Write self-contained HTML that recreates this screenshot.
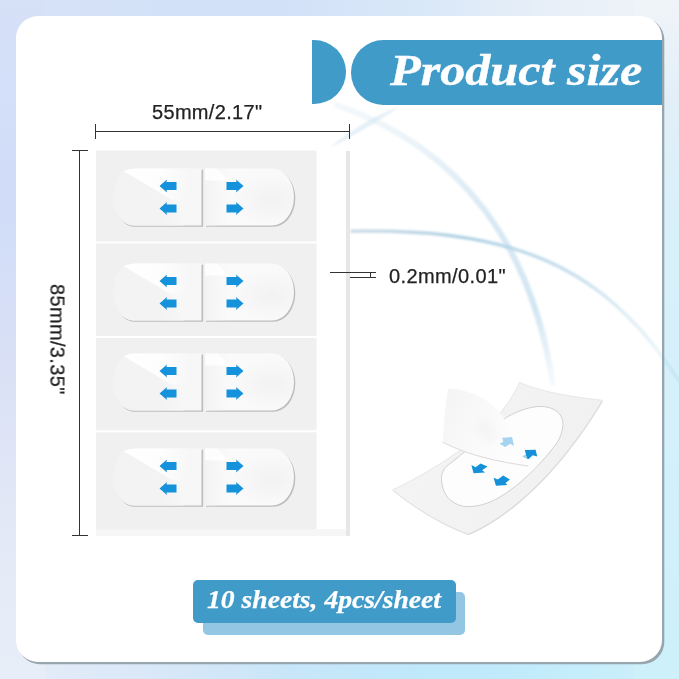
<!DOCTYPE html>
<html><head><meta charset="utf-8">
<style>
*{margin:0;padding:0;box-sizing:border-box}
html,body{width:679px;height:679px;overflow:hidden}
body{position:relative;font-family:"Liberation Sans",sans-serif;
background:linear-gradient(135deg,#d2dff8 0%,#dbe5f8 30%,#e3ebf8 48%,#d4eff9 68%,#c9eefb 100%);}
.abs{position:absolute}
#bg2{left:0;top:0;width:679px;height:679px;
background:radial-gradient(ellipse 55% 40% at 100% 0%,rgba(240,243,249,1) 0%,rgba(240,243,249,0.85) 40%,rgba(240,243,249,0) 100%),
radial-gradient(ellipse 45% 50% at 0% 100%,rgba(232,238,249,1) 0%,rgba(232,238,249,0.7) 50%,rgba(232,238,249,0) 100%);}
#card{left:16px;top:16px;width:646px;height:646px;background:#fff;border-radius:22px;
box-shadow:2px 2px 0.6px 0.3px #97a5ad;overflow:hidden}
.dim{position:absolute;font-size:20px;color:#222;white-space:nowrap;line-height:1;will-change:transform;-webkit-text-stroke:0.25px #222}
.ln{position:absolute;background:#333}
.gray{position:absolute;background:#efefef}
</style></head><body>
<div id="bg2" class="abs"></div>
<div class="abs" style="left:0;top:0;width:679px;height:45px;background:linear-gradient(to right,#d6e2f8 0%,#d2e1f8 40%,#d9e8f8 62%,#e7eff8 80%,#f0f4f8 100%)"></div>
<div class="abs" style="left:0;top:634px;width:679px;height:45px;background:linear-gradient(to right,#e6edf8 0%,#dbe8f8 20%,#c9e6f9 42%,#c0e8fb 60%,#c0ebfb 75%,#c8eefb 90%,#d0f1fb 100%)"></div>
<div class="abs" style="left:0;top:0;width:45px;height:679px;background:linear-gradient(to bottom,#d6e1f8 0%,#d0dcf8 30%,#dae1f6 55%,#e3e8f6 75%,#e7eef8 100%)"></div>
<div class="abs" style="left:634px;top:0;width:45px;height:679px;background:linear-gradient(to bottom,#f0f4f8 0%,#e2eff8 15%,#d9f0fa 30%,#d4f0fb 60%,#cdf0fb 100%)"></div>
<svg class="abs" style="left:0;top:0" width="679" height="679" viewBox="0 0 679 679"><path d="M350.3 231.2 C494.6 228.9 598.1 253.5 679.0 381.0" fill="none" stroke="#c4e4f4" stroke-width="4" opacity="0.7"/></svg>
<div id="card" class="abs">
  <!-- swooshes -->
  <svg class="abs" style="left:-16px;top:-16px" width="679" height="679" viewBox="0 0 679 679">
    <defs>
      <linearGradient id="gB" gradientUnits="userSpaceOnUse" x1="0" y1="100" x2="0" y2="400">
        <stop offset="0" stop-color="#d9e9f3" stop-opacity="0.3"/>
        <stop offset="0.15" stop-color="#d9e9f3" stop-opacity="0.55"/>
        <stop offset="0.35" stop-color="#d6e8f3" stop-opacity="0.9"/>
        <stop offset="0.7" stop-color="#d3e6f2" stop-opacity="1"/>
        <stop offset="1" stop-color="#d3e6f2" stop-opacity="0"/>
      </linearGradient>
      <linearGradient id="gC" gradientUnits="userSpaceOnUse" x1="350" y1="0" x2="679" y2="0">
        <stop offset="0" stop-color="#c2d5e0" stop-opacity="0.8"/>
        <stop offset="0.35" stop-color="#b2d3e5" stop-opacity="1"/>
        <stop offset="0.7" stop-color="#bcdaea" stop-opacity="0.8"/>
        <stop offset="1" stop-color="#d8eaf3" stop-opacity="0.4"/>
      </linearGradient>
      <filter id="bl1" x="-10%" y="-10%" width="120%" height="120%"><feGaussianBlur stdDeviation="1"/></filter>
      <filter id="bl05" x="-10%" y="-10%" width="120%" height="120%"><feGaussianBlur stdDeviation="0.5"/></filter>
    </defs>
    <path d="M334.7 104.4 C465.9 148.7 533.5 251.9 553.0 386.0" fill="none" stroke="url(#gB)" stroke-width="6" filter="url(#bl1)"/>
    <path d="M328.8 148.6 Q362.4 119.7 401 105.9 Q367.6 128.3 328.8 148.6 Z" fill="#d3e6f2" opacity="0.6" filter="url(#bl1)"/>
    <path d="M350.3 231.2 C494.6 228.9 598.1 253.5 679.0 381.0" fill="none" stroke="url(#gC)" stroke-width="3.4" filter="url(#bl1)"/>
  </svg>

  <!-- D half circle -->
  <div class="abs" style="left:296px;top:24px;width:34px;height:64px;background:#409bc9;border-radius:0 32px 32px 0"></div>
  <!-- banner -->
  <div class="abs" style="left:335px;top:24px;width:330px;height:65px;background:#409bc9;border-radius:32.5px 0 0 32.5px"></div>
  <div class="abs" style="left:374px;top:28px;font-family:'Liberation Serif',serif;font-weight:bold;font-style:italic;font-size:45px;color:#fff;white-space:nowrap;will-change:transform;-webkit-text-stroke:0.4px #fff;transform-origin:0 0;transform:scaleX(1.115)">Product size</div>
</div>

<!-- dimension 55mm -->
<div class="dim" style="left:152.3px;top:102.4px;letter-spacing:0.32px">55mm/2.17"</div>
<div class="ln" style="left:96px;top:131px;width:254px;height:1px"></div>
<div class="ln" style="left:95px;top:124px;width:1px;height:15px"></div>
<div class="ln" style="left:349px;top:124px;width:1px;height:15px"></div>

<!-- vertical dim 85mm -->
<div class="ln" style="left:79px;top:150px;width:1px;height:386px"></div>
<div class="ln" style="left:72px;top:150px;width:16px;height:1px"></div>
<div class="ln" style="left:72px;top:535px;width:16px;height:1px"></div>
<div class="dim" style="left:0;top:0;transform-origin:0 0;transform:translate(67.5px,284px) rotate(90deg);letter-spacing:0.35px">85mm/3.35"</div>

<!-- sheet -->
<div class="abs" style="left:96px;top:529px;width:250px;height:7px;background:#f6f6f6"></div>
<svg class="abs" style="left:0;top:0" width="679" height="679" viewBox="0 0 679 679">
  <rect x="96" y="150.5" width="220.5" height="91" fill="#f0f0f0"/>
  <rect x="96" y="243.5" width="220.5" height="92.5" fill="#f0f0f0"/>
  <rect x="96" y="338" width="220.5" height="92.3" fill="#f0f0f0"/>
  <rect x="96" y="432.3" width="220.5" height="97.2" fill="#f0f0f0"/>
</svg>
<div class="abs" style="left:346px;top:151px;width:4px;height:385px;background:#e7e7e7"></div>


<svg class="abs" style="left:0;top:0" width="679" height="679" viewBox="0 0 679 679">
  <defs>
    <linearGradient id="stL" x1="0" y1="0" x2="1" y2="1">
      <stop offset="0" stop-color="#fdfdfd"/>
      <stop offset="1" stop-color="#f6f6f6"/>
    </linearGradient>
    <radialGradient id="stR" cx="0.75" cy="0.55" r="0.6">
      <stop offset="0" stop-color="#f2f2f2"/>
      <stop offset="0.7" stop-color="#f9f9f9"/>
      <stop offset="1" stop-color="#fafafa"/>
    </radialGradient>
    <linearGradient id="stRL" gradientUnits="userSpaceOnUse" x1="91.5" y1="0" x2="115" y2="0">
      <stop offset="0" stop-color="#f3f3f3"/>
      <stop offset="1" stop-color="#f3f3f3" stop-opacity="0"/>
    </linearGradient>
    <path id="arL" d="M0 6.5 L7.5 0 L7 2.6 L17 2.6 L17 10.4 L7 10.4 L7.5 13 Z" fill="#1592dc"/>
    <path id="arR" d="M17 6.5 L9.5 0 L10 2.6 L0 2.6 L0 10.4 L10 10.4 L9.5 13 Z" fill="#1592dc"/>
    <linearGradient id="glL" gradientUnits="userSpaceOnUse" x1="10" y1="0" x2="75" y2="0">
      <stop offset="0" stop-color="#ffffff"/>
      <stop offset="0.6" stop-color="#fdfdfd"/>
      <stop offset="1" stop-color="#f7f7f7"/>
    </linearGradient>
    <linearGradient id="llL" gradientUnits="userSpaceOnUse" x1="0" y1="0" x2="70" y2="0">
      <stop offset="0" stop-color="#f3f3f3"/>
      <stop offset="0.7" stop-color="#f3f3f3"/>
      <stop offset="1" stop-color="#f7f7f7"/>
    </linearGradient>
    <g id="stk">
      <path d="M20 1.3 H89.6 V58.3 H20 A20 28.5 0 0 1 1 29.8 A20 28.5 0 0 1 20 1.3 Z" fill="#bdbdbd"/>
      <path d="M92.5 1.3 H159.3 A22 28.5 0 0 1 181.8 29.8 A22 28.5 0 0 1 159.3 58.3 H92.5 Z" fill="#bdbdbd"/>
      <path d="M20 0 H88 V57 H20 A20 28.5 0 0 1 0 28.5 A20 28.5 0 0 1 20 0 Z" fill="#f7f7f7"/>
      <path d="M10 2.5 L58 31 L70 57 H20 A20 28.5 0 0 1 0 28.5 A20 28.5 0 0 1 10 2.5 Z" fill="url(#llL)"/>
      <path d="M10 2.5 Q16 0 22 0 H75 V31 H58 Z" fill="url(#glL)"/>
      <path d="M91.5 0 H158.5 A22 28.5 0 0 1 180.5 28.5 A22 28.5 0 0 1 158.5 57 H91.5 Z" fill="url(#stR)"/>
      <path d="M91.5 0 H115 V57 H91.5 Z" fill="url(#stRL)"/>
      <path d="M91.5 0 H104 L115 12 L91.5 12 Z" fill="#ffffff" opacity="0.8"/>
      <use href="#arL" x="46" y="11"/>
      <use href="#arL" x="46" y="33.5"/>
      <use href="#arR" x="113" y="11"/>
      <use href="#arR" x="113" y="33.5"/>
    </g>
  </defs>
  <use href="#stk" x="113.5" y="168.5"/>
  <use href="#stk" x="113.5" y="263.5"/>
  <use href="#stk" x="113.5" y="353.5"/>
  <use href="#stk" x="113.5" y="448.5"/>
</svg>

<!-- 0.2mm -->
<div class="ln" style="left:330px;top:272px;width:46px;height:1px"></div>
<div class="ln" style="left:350px;top:277px;width:26px;height:1px"></div>
<div class="ln" style="left:370px;top:272px;width:1px;height:6px"></div>
<div class="dim" style="left:389px;top:266px;letter-spacing:0.4px">0.2mm/0.01"</div>


<!-- 3D sticker -->
<svg class="abs" style="left:0;top:0" width="679" height="679" viewBox="0 0 679 679">
  <defs>
    <linearGradient id="bk" x1="0" y1="0" x2="1" y2="0.3">
      <stop offset="0" stop-color="#f4f4f4"/>
      <stop offset="1" stop-color="#f1f1f1"/>
    </linearGradient>
    <linearGradient id="flm" x1="0" y1="0" x2="1" y2="0.4">
      <stop offset="0" stop-color="#f4f4f4"/>
      <stop offset="0.5" stop-color="#f9f9f9"/>
      <stop offset="1" stop-color="#fdfdfd"/>
    </linearGradient>
    <filter id="bl3" x="-50%" y="-50%" width="200%" height="200%"><feGaussianBlur stdDeviation="3"/></filter>
    <path id="ar3" d="M-8.5 0 L-1 -6.5 L-1.5 -3.9 L8.5 -3.9 L8.5 3.9 L-1.5 3.9 L-1 6.5 Z"/>
  </defs>
  <path d="M392.5 490 C440 467 497 432 519.6 382.4 Q545 394 602.4 400.3 C571.4 452.2 524.2 509.7 468.1 534.3 Q430.4 520.5 392.5 490 Z" fill="#dadada" transform="translate(0.6,1)"/>
  <path d="M392.5 490 C440 467 497 432 519.6 382.4 Q545 394 602.4 400.3 C571.4 452.2 524.2 509.7 468.1 534.3 Q430.4 520.5 392.5 490 Z" fill="url(#bk)" stroke="#dedede" stroke-width="0.7"/>
  <path d="M441.9 483 C440 474 444 467 451 463 L507 417 C520 410 532 406 542 406.5 C553 407 561 412 562.7 421 C564 430 559 442 553 448 C540 465 520 485 500 497 C488 504 475 508 462 506 C450 503 443 494 441.9 483 Z" fill="#fdfdfd" stroke="#c6c6c6" stroke-width="0.8"/>
  <path d="M448 388.6 C470 390 490 398 503 417 C512 430 520 450 528 466 C500 462 470 456 442.7 442.3 C444 420 446 400 448 388.6 Z" fill="url(#flm)"/>
  <path d="M528 466 C500 462 470 456 442.7 442.3" fill="none" stroke="#dadada" stroke-width="1"/>
  <ellipse cx="487" cy="430" rx="9" ry="14" fill="#e8e8e8" opacity="0.25" filter="url(#bl3)" transform="rotate(-30 487 430)"/>
  <polygon points="473.5,473.3 471.4,465.1 475.6,467.2 480.6,463.4 487.5,466.4 482.1,470.3 485.2,472.4" fill="#1590da"/>
  <polygon points="495.9,485.7 493.6,477.7 497.8,479.6 503.2,475.4 509.9,479.4 505.5,483 507.4,485.1" fill="#1590da"/>
  <polygon points="528.3,459.3 522.6,456.3 526,455 524.9,450.1 535.6,449.7 537.2,456.6 532.8,455.2" fill="#1590da"/>
  <polygon points="522.6,456.3 526,455 527.5,458.5" fill="#a8d8f0"/>
  <polygon points="505,447 499.4,443.5 503.3,442 502.1,437.7 512.1,437 514,446 510.3,443.8" fill="#a6d4f0"/>
</svg>

<!-- bottom label -->
<div class="abs" style="left:203px;top:592px;width:262px;height:42.5px;background:#93c6e3;border-radius:5px"></div>
<div class="abs" style="left:193px;top:580px;width:263px;height:43px;background:#409bc9;border-radius:5px"></div>
<div class="abs" style="left:206.5px;top:586px;font-family:'Liberation Serif',serif;font-weight:bold;font-style:italic;font-size:25px;color:#fff;white-space:nowrap;will-change:transform;-webkit-text-stroke:0.25px #fff;transform-origin:0 0;transform:scaleX(1.105)">10 sheets, 4pcs/sheet</div>

</body></html>
